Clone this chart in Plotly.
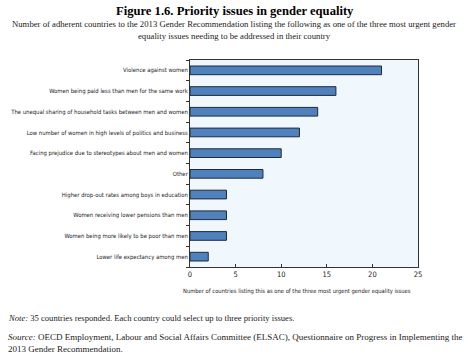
import plotly.graph_objects as go

categories = [
    "Violence against women",
    "Women being paid less than men for the same work",
    "The unequal sharing of household tasks between men and women",
    "Low number of women in high levels of politics and business",
    "Facing prejudice due to stereotypes about men and women",
    "Other",
    "Higher drop-out rates among boys in education",
    "Women receiving lower pensions than men",
    "Women being more likely to be poor than men",
    "Lower life expectancy among men",
]
values = [21, 16, 14, 12, 10, 8, 4, 4, 4, 2]
x_ticks = [0, 5, 10, 15, 20, 25]

W, H = 468, 354
L, R, T, B = 190, 418, 60, 267

def px(x):
    return (x - L) / (R - L)

def py(y):
    return (B - y) / (B - T)

narrow = "DejaVu Sans Condensed, Liberation Sans Narrow, Liberation Sans, Arial"
serif = "Liberation Serif, Times New Roman, serif"

fig = go.Figure(go.Bar(
    x=values[::-1], y=categories[::-1], orientation="h",
    marker=dict(color="#4F81BD", line=dict(color="#1F2A3A", width=1)),
    width=0.42,
))

fig.update_layout(
    width=W, height=H,
    margin=dict(l=L, r=W - R, t=T, b=H - B),
    paper_bgcolor="white",
    plot_bgcolor="#F0F8FE",
    showlegend=False,
    font=dict(family=narrow, size=8, color="#222"),
    xaxis=dict(
        range=[0, 25], tickvals=x_ticks, ticks="inside", ticklen=3,
        tickcolor="#333", showgrid=False, zeroline=False, automargin=False,
        showline=True, linecolor="#333", linewidth=1, mirror=True,
        tickfont=dict(family=narrow, size=7.5, color="#222"),
    ),
    yaxis=dict(
        ticks="outside", ticklen=3, tickson="boundaries", tickcolor="#333",
        showgrid=False, showline=True, linecolor="#333", linewidth=1, mirror=True,
        automargin=False,
        tickfont=dict(family=narrow, size=5.9, color="#222"),
    ),
)

ann = [
    dict(text="<b>Figure 1.6. Priority issues in gender equality</b>", x=px(235), y=py(11),
         font=dict(family=serif, size=12.6, color="#000"), xanchor="center"),
    dict(text="Number of adherent countries to the 2013 Gender Recommendation listing the following as one of the three most urgent gender",
         x=px(234), y=py(24), font=dict(family=serif, size=8.7, color="#222"), xanchor="center"),
    dict(text="equality issues needing to be addressed in their country",
         x=px(234), y=py(36), font=dict(family=serif, size=8.7, color="#222"), xanchor="center"),
    dict(text="Number of countries listing this as one of the three most urgent gender equality issues",
         x=px(297), y=py(291), font=dict(family=narrow, size=5.8, color="#222"), xanchor="center"),
    dict(text="<i>Note:</i> 35 countries responded. Each country could select up to three priority issues.",
         x=px(6), y=py(318), font=dict(family=serif, size=8.6, color="#222"), xanchor="left"),
    dict(text="<i>Source:</i> OECD Employment, Labour and Social Affairs Committee (ELSAC), Questionnaire on Progress in Implementing the",
         x=px(6), y=py(337), font=dict(family=serif, size=9, color="#222"), xanchor="left"),
    dict(text="2013 Gender Recommendation.",
         x=px(6), y=py(349), font=dict(family=serif, size=9, color="#222"), xanchor="left"),
]
for a in ann:
    fig.add_annotation(xref="paper", yref="paper", yanchor="middle", showarrow=False, **a)

fig.write_html("out.html")
